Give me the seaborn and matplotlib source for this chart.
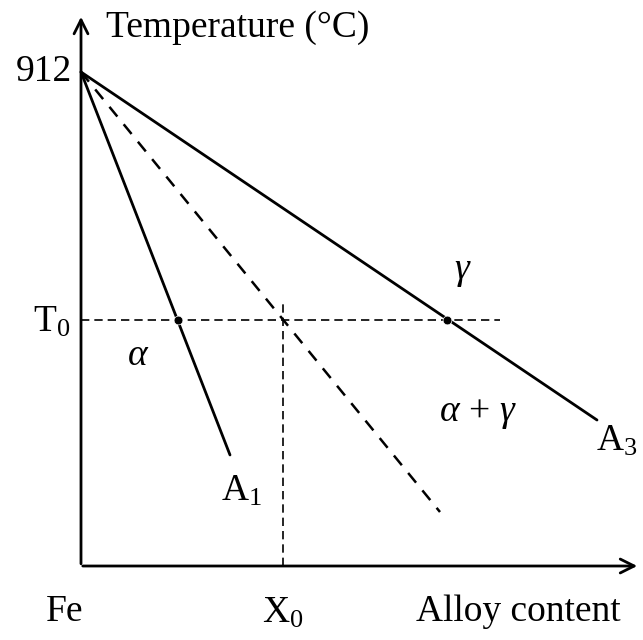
import matplotlib
matplotlib.use("Agg")
import matplotlib.pyplot as plt
import seaborn as sns
import pandas as pd

# phase diagram schematic (x: alloy content, arbitrary units; y: temperature)
T_start = 912
T0 = 454
X0 = 40.4
a1_x = [0, 29.8]
a1_T = [912, 205]
t0_x = [0, 71.8]          # T0 curve (dashed)
t0_T = [912, 99.7]
a3_x = [0, 103.2]
a3_T = [912, 269.5]
h_x = [0, 83.8]           # horizontal dashed at T0
h_T = [T0, T0]
v_x = [X0, X0]            # vertical dashed at X0
v_T = [0, 485]
dots_x = [19.3, 73.2]
dots_T = [T0, T0]

sns.set_style("white")
plt.rcParams['font.family'] = ['Liberation Serif', 'DejaVu Serif']
plt.rcParams['mathtext.fontset'] = 'custom'
plt.rcParams['mathtext.rm'] = 'Liberation Serif'
plt.rcParams['mathtext.it'] = 'Liberation Serif:italic'
plt.rcParams['text.color'] = 'black'

fig = plt.figure(figsize=(6.43, 6.40), dpi=100)
ax = fig.add_axes([0, 0, 1, 1])
ax.set_xlim(-16.2, 112.4)
ax.set_ylim(-136.6, 1044.9)
ax.axis('off')

k = dict(color='black', legend=False, ax=ax, estimator=None, sort=False)
sns.lineplot(x=a1_x, y=a1_T, linewidth=2.0, **k)
sns.lineplot(x=a3_x, y=a3_T, linewidth=2.0, **k)
sns.lineplot(x=t0_x, y=t0_T, linewidth=1.8, linestyle=(0, (5, 4)), **k)
sns.lineplot(x=h_x, y=h_T, linewidth=1.2, linestyle=(0, (5, 3)), **k)
sns.lineplot(x=v_x, y=v_T, linewidth=1.2, linestyle=(0, (5, 3)), **k)
sns.scatterplot(x=dots_x, y=dots_T, color='black', s=40, zorder=5, ax=ax)

# axes with arrows
arr = dict(arrowstyle='->', color='black', lw=2.0, mutation_scale=25)
ax.annotate('', xy=(111.8, 0), xytext=(-0.2, 0), arrowprops=arr)
ax.annotate('', xy=(0, 1019), xytext=(0, -1), arrowprops=arr)

fs = 27
ax.text(-1.8, 912, '912', ha='right', va='center', fontsize=fs)
ax.text(-2.2, 450, r'$\mathrm{T}_0$', ha='right', va='center', fontsize=fs)
ax.text(5.0, 993, 'Temperature (°C)', ha='left', va='center', fontsize=fs)
ax.text(-3.2, -85, 'Fe', ha='center', va='center', fontsize=fs)
ax.text(X0, -88, r'$\mathrm{X}_0$', ha='center', va='center', fontsize=fs)
ax.text(87.4, -85, 'Alloy content', ha='center', va='center', fontsize=fs)
ax.text(11.4, 389, r'$\alpha$', ha='center', va='center', fontsize=fs)
ax.text(76.4, 543, r'$\gamma$', ha='center', va='center', fontsize=fs)
ax.text(79.4, 282, r'$\alpha\,+\,\gamma$', ha='center', va='center', fontsize=fs)
ax.text(32.2, 138, r'$\mathrm{A}_1$', ha='center', va='center', fontsize=fs)
ax.text(107.2, 230, r'$\mathrm{A}_3$', ha='center', va='center', fontsize=fs)

fig.savefig('out.png', dpi=100)
